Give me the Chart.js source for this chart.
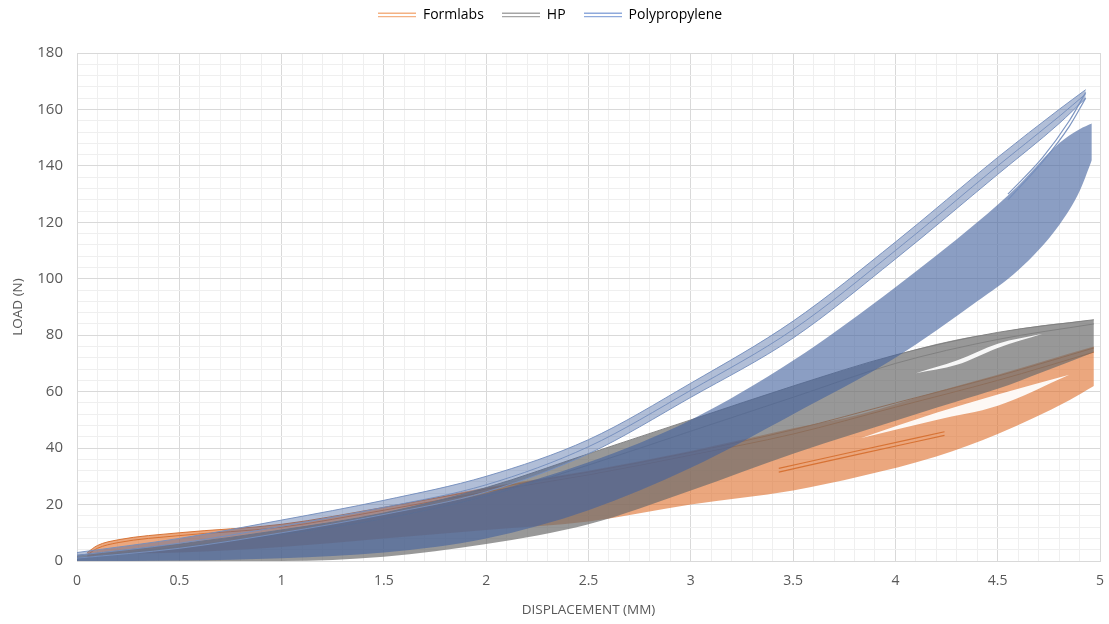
<!DOCTYPE html>
<html>
<head>
<meta charset="utf-8">
<title>Load vs displacement</title>
<script src="https://cdn.jsdelivr.net/npm/chart.js@4.4.0/dist/chart.umd.min.js"></script>
<style>
    html, body { margin: 0; padding: 0; background: #ffffff; }
    #wrap { width: 1109px; height: 624px; }
</style>
</head>
<body>
<div id="wrap"><canvas id="loadChart"></canvas></div>
<script>
// Cyclic load / displacement loops

// Formlabs (orange)
const flX        = [0.05, 0.1, 0.2, 0.5, 1.0, 1.5, 2.0, 2.5, 3.0, 3.5, 3.83, 4.2, 4.5, 4.85, 4.97];
const flTop      = [3, 5.5, 7.5, 10, 13, 19, 26, 32, 39, 47, 52, 60, 66, 73.5, 76];
const flLow      = [1, 2, 2.5, 3, 5, 8, 11, 14, 20, 25, 30, 37, 45, 57, 62];
const flGapX     = [3.83, 4.2, 4.5, 4.85];
const flGapTop   = [43.5, 52.5, 59, 66];
const flGapLow   = [43.5, 50, 55, 66];
const flLineX    = [0.05, 0.1, 0.2, 0.5, 1.0, 1.5, 2.0, 2.5, 3.0, 3.5, 4.0, 4.5, 4.97];
const flLineA    = [3, 5.5, 7.5, 10, 13, 19, 25.5, 31.5, 38.5, 46.5, 56, 65.5, 75.5];
const flLineB    = [2.2, 4.5, 6.5, 9, 12, 18, 24.5, 30.5, 37.5, 45, 54.5, 64, 74];
const flShortX   = [3.43, 3.8, 4.24];
const flShortA   = [31.5, 37.5, 44.5];
const flShortB   = [32.8, 38.8, 45.8];

// HP (grey)
const hpX        = [0, 0.5, 1.0, 1.5, 2.0, 2.5, 3.0, 3.5, 4.1, 4.3, 4.5, 4.72, 4.97];
const hpTop      = [2, 6, 11, 17, 26, 38, 50, 62, 75, 78.5, 81, 83.5, 85.5];
const hpLow      = [0, 0, 0, 1.5, 6, 13, 25, 38, 52, 56.5, 61, 67, 74];
const hpGapX     = [4.1, 4.3, 4.5, 4.72];
const hpGapTop   = [66.5, 71, 77, 80.5];
const hpGapLow   = [66.5, 69.5, 75.5, 80.5];
const hpLineX    = [0, 0.5, 1.0, 1.5, 2.0, 2.5, 3.0, 3.5, 4.0, 4.5, 4.97];
const hpLineA    = [2, 6, 11, 17, 26, 38, 50, 62, 73, 81, 85.5];
const hpLineB    = [1, 5, 9.5, 15, 23, 34, 46, 58, 70, 78.5, 84];

// Polypropylene (blue)
const ppBodyX    = [0, 0.5, 1.0, 1.5, 2.0, 2.5, 3.0, 3.5, 4.0, 4.4, 4.6, 4.8, 4.9, 4.96];
const ppBodyTop  = [1, 4.5, 10, 16.5, 24, 35, 50, 71, 97, 120, 133, 148, 153, 155];
const ppBodyLow  = [0, 0.2, 1, 3, 8, 18, 33, 52, 72, 92, 103, 119, 131, 142];
const ppStripX   = [0, 0.5, 1.0, 1.5, 2.0, 2.5, 3.0, 3.5, 4.0, 4.5, 4.8, 4.93];
const ppStripTop = [3, 8, 14.5, 21.5, 30, 43, 63, 85, 113, 143, 160, 167];
const ppStripMid = [2, 6.3, 12.3, 19, 27, 40.5, 60.5, 82, 110, 140, 157.5, 165.5];
const ppStripLow = [1, 4.5, 10, 16.5, 24.5, 38, 58, 79, 107, 137, 155, 164];
const ppArmX     = [4.55, 4.72, 4.85, 4.93];
const ppArmA     = [130, 143, 156, 166];
const ppArmB     = [128, 141.5, 154, 164];

const legendNames  = ['Formlabs', 'HP', 'Polypropylene'];
const legendColors = ['#f4b183', '#a5a5a5', '#8faadc'];

const FL_FILL  = 'rgba(221, 108, 40, 0.6)';
const FL_LINE  = 'rgba(214, 112, 48, 0.95)';
const HP_FILL  = 'rgba(108, 108, 108, 0.7)';
const HP_LINE  = 'rgba(125, 125, 125, 0.9)';
const PP_FILL  = 'rgba(68, 98, 158, 0.62)';
const PP_STRIP = 'rgba(70, 100, 160, 0.42)';
const PP_LINE  = 'rgba(118, 143, 190, 0.95)';
const GAP_FILL = 'rgba(255, 255, 255, 0.92)';

const pts = (xs, ys) => xs.map((x, i) => ({ x: x, y: ys[i] }));

// two boundary datasets, the upper one filled down to the lower one
function bandPair(xs, low, top, color) {
    return [
        { data: pts(xs, low), borderColor: 'rgba(0,0,0,0)', borderWidth: 0, fill: false },
        { data: pts(xs, top), borderColor: 'rgba(0,0,0,0)', borderWidth: 0, fill: '-1', backgroundColor: color }
    ];
}

function strokeLine(xs, ys, color, width) {
    return { data: pts(xs, ys), borderColor: color, borderWidth: width, fill: false };
}

// double-line legend symbol
function makeIcon(color) {
    const c = document.createElement('canvas');
    c.width = 38;
    c.height = 6;
    const g = c.getContext('2d');
    g.strokeStyle = color;
    g.lineWidth = 1.4;
    [1.2, 4.6].forEach(y => {
        g.beginPath();
        g.moveTo(0, y);
        g.lineTo(38, y);
        g.stroke();
    });
    return c;
}
const legendIcons = legendColors.map(makeIcon);

// bottom layer first
const datasets = [
    ...bandPair(flX, flLow, flTop, FL_FILL),
    ...bandPair(flGapX, flGapLow, flGapTop, GAP_FILL),
    strokeLine(flLineX, flLineA, FL_LINE, 1),
    strokeLine(flLineX, flLineB, FL_LINE, 1),
    strokeLine(flShortX, flShortA, FL_LINE, 1.2),
    strokeLine(flShortX, flShortB, FL_LINE, 1.2),

    ...bandPair(hpX, hpLow, hpTop, HP_FILL),
    ...bandPair(hpGapX, hpGapLow, hpGapTop, GAP_FILL),
    strokeLine(hpLineX, hpLineA, HP_LINE, 1),
    strokeLine(hpLineX, hpLineB, HP_LINE, 1),

    ...bandPair(ppBodyX, ppBodyLow, ppBodyTop, PP_FILL),
    ...bandPair(ppStripX, ppStripLow, ppStripTop, PP_STRIP),
    strokeLine(ppStripX, ppStripTop, PP_LINE, 1),
    strokeLine(ppStripX, ppStripMid, PP_LINE, 1),
    strokeLine(ppStripX, ppStripLow, PP_LINE, 1),
    strokeLine(ppArmX, ppArmA, PP_LINE, 1.2),
    strokeLine(ppArmX, ppArmB, PP_LINE, 1.2)
];

datasets.forEach((d, i) => {
    d.order = datasets.length - i;
    d.pointRadius = 0;
    d.cubicInterpolationMode = 'monotone';
});

const isMultiple = (v, step) => Math.abs(v / step - Math.round(v / step)) < 1e-6;

// keep the legend band at a fixed height so the plot starts where the picture does
const legendSpace = {
    id: 'legendSpace',
    beforeLayout(chart) {
        const lg = chart.legend;
        if (lg && !lg._fixed) {
            const fit = lg.fit;
            lg.fit = function () {
                fit.call(this);
                this.height = 63;
            };
            lg._fixed = true;
        }
    }
};

Chart.defaults.font.family = "'Open Sans', 'Noto Sans', sans-serif";
Chart.defaults.color = '#595959';

new Chart(document.getElementById('loadChart'), {
    type: 'line',
    data: { datasets: datasets },
    plugins: [legendSpace],
    options: {
        responsive: true,
        maintainAspectRatio: false,
        animation: false,
        events: [],
        layout: { padding: { top: -10, right: 9, bottom: 0, left: 0 } },
        plugins: {
            tooltip: { enabled: false },
            legend: {
                position: 'top',
                labels: {
                    usePointStyle: true,
                    pointStyleWidth: 38,
                    padding: 18,
                    font: { size: 14 },
                    color: '#595959',
                    generateLabels: () => legendNames.map((name, i) => ({
                        text: name,
                        pointStyle: legendIcons[i],
                        fillStyle: legendColors[i],
                        strokeStyle: legendColors[i],
                        lineWidth: 0,
                        hidden: false,
                        datasetIndex: i
                    }))
                }
            }
        },
        scales: {
            x: {
                type: 'linear',
                min: 0,
                max: 5,
                ticks: {
                    stepSize: 0.1,
                    autoSkip: false,
                    maxRotation: 0,
                    minRotation: 0,
                    padding: 12,
                    font: { size: 14 },
                    color: '#595959',
                    callback: v => isMultiple(v, 0.5) ? String(v) : ''
                },
                grid: {
                    drawTicks: false,
                    color: c => isMultiple(c.tick.value, 0.5) ? '#d9d9d9' : '#efefef'
                },
                border: { color: '#d9d9d9' },
                title: {
                    display: true,
                    text: 'DISPLACEMENT (MM)',
                    font: { size: 13.5 },
                    color: '#595959',
                    padding: { top: 0, bottom: 6 }
                },
                afterFit: scale => {
                    scale.height = 63;
                    scale.paddingRight = 0;
                }
            },
            y: {
                min: 0,
                max: 180,
                ticks: {
                    stepSize: 4,
                    autoSkip: false,
                    padding: 14,
                    font: { size: 15 },
                    color: '#595959',
                    callback: v => isMultiple(v, 20) ? String(v) : ''
                },
                grid: {
                    drawTicks: false,
                    color: c => isMultiple(c.tick.value, 20) ? '#d9d9d9' : '#efefef'
                },
                border: { color: '#d9d9d9' },
                title: {
                    display: true,
                    text: 'LOAD (N)',
                    font: { size: 13.5 },
                    color: '#595959',
                    padding: { top: 10, bottom: 0 }
                },
                afterFit: scale => { scale.width = 77; }
            }
        }
    }
});
</script>
</body>
</html>
